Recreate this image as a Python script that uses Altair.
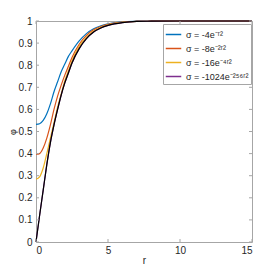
import altair as alt
import pandas as pd

r_vals = [0, 0.25, 0.5, 0.75, 1, 1.25, 1.5, 1.75, 2, 2.25, 2.5, 3, 3.5, 4, 4.5, 5, 6, 7, 8, 10, 12, 15]
blue = [0.532, 0.535, 0.55, 0.58, 0.625, 0.68, 0.725, 0.77, 0.805, 0.84, 0.865, 0.91, 0.943, 0.965, 0.978, 0.987, 0.996, 0.999, 1, 1, 1, 1]
orange = [0.397, 0.40, 0.425, 0.47, 0.53, 0.60, 0.66, 0.71, 0.755, 0.795, 0.835, 0.895, 0.935, 0.96, 0.975, 0.985, 0.995, 0.998, 0.999, 1, 1, 1]
yellow = [0.284, 0.295, 0.335, 0.40, 0.47, 0.54, 0.61, 0.67, 0.73, 0.775, 0.82, 0.885, 0.927, 0.955, 0.972, 0.983, 0.994, 0.998, 0.999, 1, 1, 1]
purple = [0, 0.12, 0.235, 0.35, 0.45, 0.53, 0.60, 0.665, 0.72, 0.765, 0.81, 0.875, 0.92, 0.95, 0.968, 0.98, 0.993, 0.998, 0.999, 1, 1, 1]
black = [0, 0.12, 0.235, 0.35, 0.45, 0.53, 0.60, 0.665, 0.72, 0.765, 0.81, 0.875, 0.92, 0.95, 0.968, 0.98, 0.993, 0.998, 0.999, 1, 1, 1]

labels = ["σ = -4e⁻ʳ²", "σ = -8e⁻²ʳ²", "σ = -16e⁻⁴ʳ²", "σ = -1024e⁻²⁵⁶ʳ²"]
colors = ["#0072BD", "#D95319", "#EDB120", "#7E2F8E"]
x_ticks = [0, 5, 10, 15]
y_ticks = [0, 0.1, 0.2, 0.3, 0.4, 0.5, 0.6, 0.7, 0.8, 0.9, 1]

W, H = 216, 221
FONT = "Liberation Sans"
AX = "#a6a6a6"
TXT = "#262626"

rows = []
for lab, vals in zip(labels, [blue, orange, yellow, purple]):
    for rr, v in zip(r_vals, vals):
        rows.append({"r": rr, "phi": v, "s": lab})
df = pd.DataFrame(rows)
df_black = pd.DataFrame({"r": r_vals, "phi": black})

xs = alt.Scale(domain=[0, 15], nice=False)
ys = alt.Scale(domain=[0, 1], nice=False)
x_axis = alt.Axis(values=x_ticks, title="r", tickSize=0, domain=False, grid=False,
                  labelPadding=3, format="d", titleY=21, titleBaseline="alphabetic")
y_axis = alt.Axis(values=y_ticks, title="φ", tickSize=0, domain=False, grid=False,
                  labelPadding=4, format="~g", titleX=-24, titleBaseline="middle",
                  titleFontSize=9)
X = alt.X("r:Q", scale=xs, axis=x_axis)
Y = alt.Y("phi:Q", scale=ys, axis=y_axis)

lines = alt.Chart(df).mark_line(strokeWidth=1.2, interpolate="monotone").encode(
    x=X, y=Y,
    color=alt.Color("s:N", scale=alt.Scale(domain=labels, range=colors),
                    legend=alt.Legend(title=None, orient="none", legendX=127, legendY=3,
                                      fillColor="white", strokeColor=AX, padding=2,
                                      symbolType="stroke", symbolSize=240, symbolStrokeWidth=1.5,
                                      labelFontSize=9, labelFont=FONT, labelColor=TXT,
                                      rowPadding=0, labelOffset=4)),
    detail="s:N",
)

black_line = alt.Chart(df_black).mark_line(color="black", strokeWidth=1.2, interpolate="monotone").encode(
    x=X, y=Y,
)

xt = pd.DataFrame({"r": x_ticks})
yt = pd.DataFrame({"phi": y_ticks})
tb = alt.Chart(xt).mark_rule(color=AX).encode(x=X, y=alt.value(H), y2=alt.value(H - 3))
tt = alt.Chart(xt).mark_rule(color=AX).encode(x=X, y=alt.value(0), y2=alt.value(3))
tl = alt.Chart(yt).mark_rule(color=AX).encode(y=Y, x=alt.value(0), x2=alt.value(3))
tr = alt.Chart(yt).mark_rule(color=AX).encode(y=Y, x=alt.value(W), x2=alt.value(W - 3))

chart = alt.layer(lines, black_line, tb, tt, tl, tr).properties(
    width=W, height=H,
    autosize=alt.AutoSizeParams(type="none"),
    padding={"left": 28, "top": 13, "right": 10, "bottom": 23},
    background="white",
).configure_view(stroke=AX, strokeWidth=1).configure_axis(
    labelFont=FONT, labelFontSize=10, labelColor=TXT,
    titleFont=FONT, titleFontSize=10, titleColor=TXT, titleFontWeight="normal",
)

chart.save("out.html", embed_options={"renderer": "svg", "actions": False})
